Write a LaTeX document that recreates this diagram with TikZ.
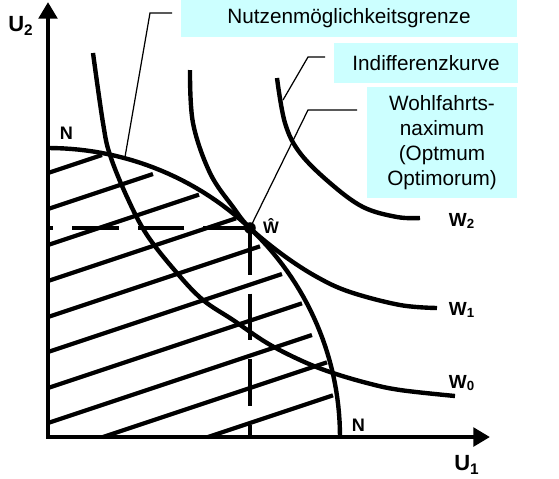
\documentclass[tikz,border=0pt]{standalone}
\usepackage{fontspec}
\setmainfont{Liberation Sans}
\usetikzlibrary{arrows.meta, positioning}

\definecolor{boxcyan}{HTML}{CCFFFF}

\begin{document}
\begin{tikzpicture}[
    x=0.02cm, y=-0.02cm,
    axis/.style={line width=2.8pt, {Triangle[length=9.5pt, width=10.5pt]}-{Triangle[length=9.5pt, width=10.5pt]}},
    curve/.style={line width=2.5pt},
    hatch/.style={line width=2.4pt},
    guide/.style={line width=2.5pt, dash pattern=on 26.6pt off 10.8pt},
    leader/.style={line width=0.7pt},
    infobox/.style={fill=boxcyan, inner sep=0pt, align=center, font=\fontsize{11.8}{14.2}\selectfont},
    axlabel/.style={font=\fontsize{12.5}{14}\selectfont\bfseries},
    wlabel/.style={font=\fontsize{10.8}{12}\selectfont\bfseries},
    nlabel/.style={font=\fontsize{10.3}{11}\selectfont\bfseries}
]
\useasboundingbox (0,0) rectangle (559,478);

% axes
\coordinate (origin) at (48,437);
\coordinate (ytip) at (48,2);
\coordinate (xtip) at (490,437);

% hatching below the frontier
\foreach \sx/\sy/\ex in {48/173/102, 48/209/153, 48/245/199, 48/281/236, 48/317/260,
                        48/352/282, 48/388/302, 48/423/312, 103/437/327, 208/437/333}
  \draw[hatch] (\sx,\sy) -- ({\ex},{\sy-(\ex-\sx)/3});

% utility possibility frontier N-N
\draw[curve] plot[domain=90:0, samples=60] ({48+292*cos(\x)}, {437-289*sin(\x)});

% indifference curves
\draw[curve] plot[smooth, tension=0.6] coordinates {(93,53) (103,123) (110,155) (127,197) (147,235)
  (177,273) (203,300) (233,320) (267,343) (300,360) (330,372) (367,383) (400,390) (455,396)};
\draw[curve] plot[smooth, tension=0.6] coordinates {(190,70) (193,123) (210,173) (233,207) (250,228)
  (283,255) (317,277) (350,292) (400,305) (437,308)};
\draw[curve] plot[smooth, tension=0.6] coordinates {(277,78) (285,123) (300,153) (330,183) (363,207)
  (397,217) (420,218)};

% optimum and dashed guides
\coordinate (what) at (250,228);
\coordinate (wl) at (48,228);
\coordinate (wb) at (250,437);
\draw[guide] (what) -- (wl);
\draw[guide] (what) -- (wb);
\fill (what) circle[radius=3.3pt];

\draw[axis] (ytip) -- (origin) -- (xtip);

% labels
\node[axlabel] (u2) at (21,26) {U\textsubscript{2}};
\node[axlabel] (u1) at (467,465) {U\textsubscript{1}};
\node[nlabel] (ntop) at (66.5,133) {N};
\node[nlabel] (nbot) at (358.5,425) {N};
\node[wlabel] (w0) at (462,383) {W\textsubscript{0}};
\node[wlabel] (w1) at (462,310) {W\textsubscript{1}};
\node[wlabel] (w2) at (462,221) {W\textsubscript{2}};
\node[font=\fontsize{9.5}{10}\selectfont\bfseries] (whatl) at (271,226) {Ŵ};

% explanation boxes
\node[infobox, minimum width=6.72cm, minimum height=0.74cm] (grenze) at (349,18.5) {Nutzenmöglichkeitsgrenze};
\node[infobox, minimum width=3.68cm, minimum height=0.8cm] (kurve) at (426,63) {Indifferenzkurve};
\node[infobox, minimum width=3.0cm, minimum height=2.22cm] (wohl) at (442,142.5)
  {Wohlfahrts-\\naximum\\(Optmum\\Optimorum)};

% leader lines
\coordinate (grenzeA) at (172,13);
\coordinate (grenzeK) at (150,13);
\coordinate (onN) at (125,157);
\coordinate (kurveA) at (325,57);
\coordinate (kurveK) at (308,57);
\coordinate (onW2) at (283,100);
\coordinate (wohlA) at (357,110);
\coordinate (wohlK) at (308,110);
\draw[leader] (grenzeA) -- (grenzeK) -- (onN);
\draw[leader] (kurveA) -- (kurveK) -- (onW2);
\draw[leader] (wohlA) -- (wohlK) -- (what);

\end{tikzpicture}
\end{document}
